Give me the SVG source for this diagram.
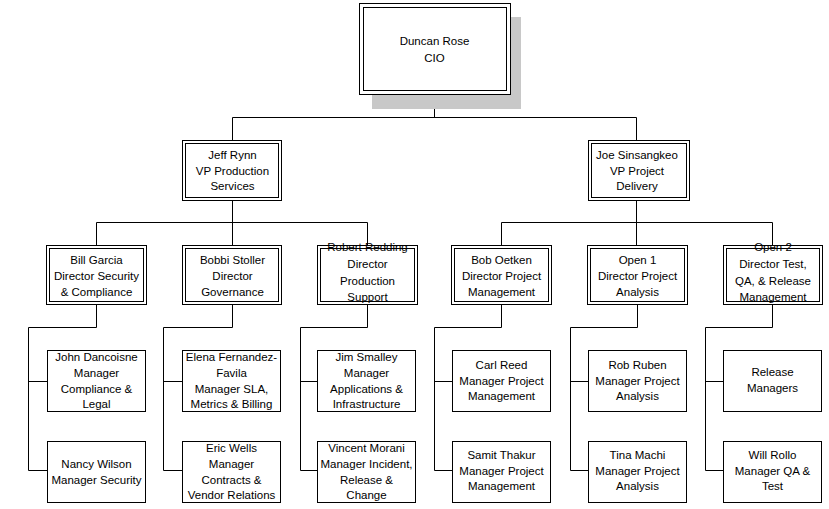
<svg xmlns="http://www.w3.org/2000/svg" width="829" height="509" viewBox="0 0 829 509">
<style>
.bx{fill:#fff;stroke:#000;stroke-width:1}
.ln{fill:none;stroke:#000;stroke-width:1}
.t{font-family:"Liberation Sans",Arial,sans-serif;font-size:11.5px;fill:#000;text-anchor:middle}
</style>
<rect width="829" height="509" fill="#fff"/>
<g id="connectors" class="ln">
<path d="M434.5 94V117.5M232.5 117.5H636.5M232.5 117.5V140M636.5 117.5V140"/>
<path d="M232.5 201V222.5M96.5 222.5H367.5M96.5 222.5V245M232.5 222.5V245M367.5 222.5V245"/>
<path d="M636.5 201V222.5M501.5 222.5H772.5M501.5 222.5V245M636.5 222.5V245M772.5 222.5V245"/>
<path d="M96.5 305V327.5H28.5V470.5H47M28.5 381.5H47"/>
<path d="M232.5 305V327.5H163.5V470.5H182M163.5 381.5H182"/>
<path d="M367.5 305V327.5H300.5V470.5H317M300.5 381.5H317"/>
<path d="M501.5 305V327.5H434.5V470.5H452M434.5 381.5H452"/>
<path d="M637.5 305V327.5H570.5V470.5H588M570.5 381.5H588"/>
<path d="M772.5 305V327.5H705.5V470.5H723M705.5 381.5H723"/>
</g>
<g id="n-duncan">
<rect x="372" y="17" width="149" height="92" fill="#c8c8c8"/>
<rect class="bx" x="359.5" y="3.5" width="151" height="91"/>
<rect class="bx" x="363.5" y="7.5" width="143" height="83"/>
<text class="t"><tspan x="434.5" y="45">Duncan Rose</tspan><tspan x="434.5" y="62">CIO</tspan></text>
</g>
<g id="n-jeff">
<rect class="bx" x="182.5" y="140.5" width="99" height="60"/>
<rect class="bx" x="185.5" y="143.5" width="93" height="54"/>
<text class="t"><tspan x="232.5" y="159">Jeff Rynn</tspan><tspan x="232.5" y="174.5">VP Production</tspan><tspan x="232.5" y="190">Services</tspan></text>
</g>
<g id="n-joe">
<rect class="bx" x="588.5" y="140.5" width="101" height="60"/>
<rect class="bx" x="591.5" y="143.5" width="95" height="54"/>
<text class="t"><tspan x="637" y="159">Joe Sinsangkeo</tspan><tspan x="637" y="174.5">VP Project</tspan><tspan x="637" y="190">Delivery</tspan></text>
</g>
<g id="n-bill">
<rect class="bx" x="46.5" y="245.5" width="100" height="59"/>
<rect class="bx" x="49.5" y="248.5" width="94" height="53"/>
<text class="t"><tspan x="96.5" y="263.5">Bill Garcia</tspan><tspan x="96.5" y="279.5">Director Security</tspan><tspan x="96.5" y="295.5">&amp; Compliance</tspan></text>
</g>
<g id="n-bobbi">
<rect class="bx" x="182.5" y="245.5" width="99" height="59"/>
<rect class="bx" x="185.5" y="248.5" width="93" height="53"/>
<text class="t"><tspan x="232.5" y="263.5">Bobbi Stoller</tspan><tspan x="232.5" y="279.5">Director</tspan><tspan x="232.5" y="295.5">Governance</tspan></text>
</g>
<g id="n-robert">
<rect class="bx" x="317.5" y="245.5" width="100" height="59"/>
<rect class="bx" x="320.5" y="248.5" width="94" height="53"/>
<text class="t"><tspan x="367.5" y="251">Robert Redding</tspan><tspan x="367.5" y="268">Director</tspan><tspan x="367.5" y="284.5">Production</tspan><tspan x="367.5" y="301">Support</tspan></text>
</g>
<g id="n-bob">
<rect class="bx" x="451.5" y="245.5" width="100" height="59"/>
<rect class="bx" x="454.5" y="248.5" width="94" height="53"/>
<text class="t"><tspan x="501.5" y="263.5">Bob Oetken</tspan><tspan x="501.5" y="279.5">Director Project</tspan><tspan x="501.5" y="295.5">Management</tspan></text>
</g>
<g id="n-open1">
<rect class="bx" x="587.5" y="245.5" width="100" height="59"/>
<rect class="bx" x="590.5" y="248.5" width="94" height="53"/>
<text class="t"><tspan x="637.5" y="263.5">Open 1</tspan><tspan x="637.5" y="279.5">Director Project</tspan><tspan x="637.5" y="295.5">Analysis</tspan></text>
</g>
<g id="n-open2">
<rect class="bx" x="723.5" y="245.5" width="99" height="59"/>
<rect class="bx" x="726.5" y="248.5" width="93" height="53"/>
<text class="t"><tspan x="773" y="251">Open 2</tspan><tspan x="773" y="268">Director Test,</tspan><tspan x="773" y="284.5">QA, &amp; Release</tspan><tspan x="773" y="301">Management</tspan></text>
</g>
<g id="n-john">
<rect class="bx" x="47.5" y="350.5" width="98" height="61"/>
<text class="t"><tspan x="96.5" y="361">John Dancoisne</tspan><tspan x="96.5" y="377">Manager</tspan><tspan x="96.5" y="392.5">Compliance &amp;</tspan><tspan x="96.5" y="408">Legal</tspan></text>
</g>
<g id="n-nancy">
<rect class="bx" x="47.5" y="441.5" width="98" height="61"/>
<text class="t"><tspan x="96.5" y="468">Nancy Wilson</tspan><tspan x="96.5" y="484">Manager Security</tspan></text>
</g>
<g id="n-elena">
<rect class="bx" x="182.5" y="350.5" width="98" height="61"/>
<text class="t"><tspan x="231.5" y="361">Elena Fernandez-</tspan><tspan x="231.5" y="377">Favila</tspan><tspan x="231.5" y="392.5">Manager SLA,</tspan><tspan x="231.5" y="408">Metrics &amp; Billing</tspan></text>
</g>
<g id="n-eric">
<rect class="bx" x="182.5" y="441.5" width="98" height="61"/>
<text class="t"><tspan x="231.5" y="452">Eric Wells</tspan><tspan x="231.5" y="468">Manager</tspan><tspan x="231.5" y="483.5">Contracts &amp;</tspan><tspan x="231.5" y="499">Vendor Relations</tspan></text>
</g>
<g id="n-jim">
<rect class="bx" x="317.5" y="350.5" width="98" height="61"/>
<text class="t"><tspan x="366.5" y="361">Jim Smalley</tspan><tspan x="366.5" y="377">Manager</tspan><tspan x="366.5" y="392.5">Applications &amp;</tspan><tspan x="366.5" y="408">Infrastructure</tspan></text>
</g>
<g id="n-vincent">
<rect class="bx" x="317.5" y="441.5" width="98" height="61"/>
<text class="t"><tspan x="366.5" y="452">Vincent Morani</tspan><tspan x="366.5" y="468">Manager Incident,</tspan><tspan x="366.5" y="483.5">Release &amp;</tspan><tspan x="366.5" y="499">Change</tspan></text>
</g>
<g id="n-carl">
<rect class="bx" x="452.5" y="350.5" width="98" height="61"/>
<text class="t"><tspan x="501.5" y="369">Carl Reed</tspan><tspan x="501.5" y="384.5">Manager Project</tspan><tspan x="501.5" y="400">Management</tspan></text>
</g>
<g id="n-samit">
<rect class="bx" x="452.5" y="441.5" width="98" height="61"/>
<text class="t"><tspan x="501.5" y="459">Samit Thakur</tspan><tspan x="501.5" y="474.5">Manager Project</tspan><tspan x="501.5" y="490">Management</tspan></text>
</g>
<g id="n-rob">
<rect class="bx" x="588.5" y="350.5" width="98" height="61"/>
<text class="t"><tspan x="637.5" y="369">Rob Ruben</tspan><tspan x="637.5" y="384.5">Manager Project</tspan><tspan x="637.5" y="400">Analysis</tspan></text>
</g>
<g id="n-tina">
<rect class="bx" x="588.5" y="441.5" width="98" height="61"/>
<text class="t"><tspan x="637.5" y="459">Tina Machi</tspan><tspan x="637.5" y="474.5">Manager Project</tspan><tspan x="637.5" y="490">Analysis</tspan></text>
</g>
<g id="n-release">
<rect class="bx" x="723.5" y="350.5" width="98" height="61"/>
<text class="t"><tspan x="772.5" y="376">Release</tspan><tspan x="772.5" y="392">Managers</tspan></text>
</g>
<g id="n-will">
<rect class="bx" x="723.5" y="441.5" width="98" height="61"/>
<text class="t"><tspan x="772.5" y="459">Will Rollo</tspan><tspan x="772.5" y="474.5">Manager QA &amp;</tspan><tspan x="772.5" y="490">Test</tspan></text>
</g>
</svg>
